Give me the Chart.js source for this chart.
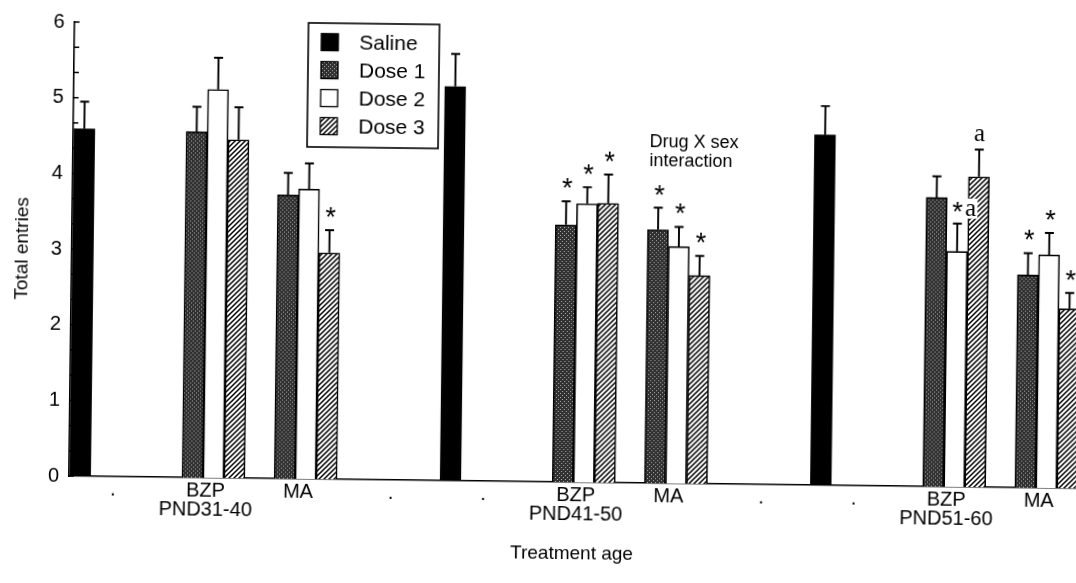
<!DOCTYPE html>
<html><head><meta charset="utf-8">
<script src="https://cdn.jsdelivr.net/npm/chart.js@4.4.1/dist/chart.umd.min.js"></script>
<style>
html,body{margin:0;padding:0;background:#fff;overflow:hidden;width:1076px;height:583px}
#c{display:block;transform:rotate(0.7deg);transform-origin:69px 476px}
</style></head><body>
<canvas id="c" width="1076" height="583"></canvas>
<script>
// ---------------- data ----------------
const ages = ['PND31-40', 'PND41-50', 'PND51-60'];
const drugs = ['BZP', 'MA'];
const seriesNames = ['Saline', 'Dose 1', 'Dose 2', 'Dose 3'];
const salineMean = [4.59, 5.21, 4.63];
const salineSem  = [0.36, 0.43, 0.38];
// order: BZP 31-40, MA 31-40, BZP 41-50, MA 41-50, BZP 51-60, MA 51-60
const dose1Mean = [4.57, 3.75, 3.40, 3.35, 3.82, 2.81];
const dose1Sem  = [0.33, 0.29, 0.31, 0.29, 0.28, 0.29];
const dose2Mean = [5.13, 3.83, 3.68, 3.13, 3.11, 3.08];
const dose2Sem  = [0.42, 0.34, 0.22, 0.26, 0.37, 0.29];
const dose3Mean = [4.47, 2.99, 3.69, 2.75, 4.10, 2.37];
const dose3Sem  = [0.43, 0.30, 0.38, 0.26, 0.36, 0.21];
const dose1Marks = ['', '', '*', '*', '', '*'];
const dose2Marks = ['', '', '*', '*', '*a', '*'];
const dose3Marks = ['', '*', '*', '*', 'a', '*'];
const yTickValues = [0, 1, 2, 3, 4, 5, 6];
const noteLines = ['Drug X sex', 'interaction'];
const xTitle = 'Treatment age';
const yTitle = 'Total entries';

// ---------------- layout (not data) ----------------
const SLOTS_PER_AGE = 4;                 // ".", drug1, drug2, "."
const barOffset = [-0.355, 1.085, 2.08]; // Saline, BZP, MA bar-group offsets in slot units
const X_MIN = -0.475, X_MAX = 10.4;
const FONT = '"Liberation Sans", Arial, Helvetica, sans-serif';
const SERIF = '"Liberation Serif", "Times New Roman", serif';

const xTickLabels = [];
ages.forEach((age) => { xTickLabels.push('.', [drugs[0], age], drugs[1], '.'); });
xTickLabels.length = xTickLabels.length - 1;

const slotX = [];
ages.forEach((age, a) => { barOffset.forEach(o => slotX.push(a * SLOTS_PER_AGE + o)); });

function salineSeries() {
  return slotX.map((x, i) => {
    const a = Math.floor(i / 3), k = i % 3;
    return k === 0 ? {x, y: salineMean[a], sem: salineSem[a], mark: ''} : {x, y: null};
  });
}
function doseSeries(mean, sem, marks) {
  return slotX.map((x, i) => {
    const a = Math.floor(i / 3), k = i % 3;
    if (k === 0) return {x, y: null};
    const j = a * 2 + (k - 1);
    return {x, y: mean[j], sem: sem[j], mark: marks[j]};
  });
}

const canvas = document.getElementById('c');
const ctx0 = canvas.getContext('2d');
function stipplePattern() {
  const c = document.createElement('canvas'); c.width = 4; c.height = 4;
  const g = c.getContext('2d');
  g.fillStyle = '#303030'; g.fillRect(0, 0, 4, 4);
  g.fillStyle = '#b0b0b0'; g.fillRect(1, 1, 1, 1); g.fillRect(3, 3, 1, 1);
  return ctx0.createPattern(c, 'repeat');
}
function hatchPattern() {
  const c = document.createElement('canvas'); c.width = 5; c.height = 5;
  const g = c.getContext('2d');
  g.fillStyle = '#fff'; g.fillRect(0, 0, 5, 5);
  g.strokeStyle = '#000'; g.lineWidth = 1.5;
  g.beginPath();
  g.moveTo(-1, 6); g.lineTo(6, -1);
  g.moveTo(-3.5, 3.5); g.lineTo(3.5, -3.5);
  g.moveTo(1.5, 8.5); g.lineTo(8.5, 1.5);
  g.stroke();
  return ctx0.createPattern(c, 'repeat');
}
const fills = ['#000', stipplePattern(), '#fff', hatchPattern()];

const datasets = [
  salineSeries(),
  doseSeries(dose1Mean, dose1Sem, dose1Marks),
  doseSeries(dose2Mean, dose2Sem, dose2Marks),
  doseSeries(dose3Mean, dose3Sem, dose3Marks)
].map((data, i) => ({
  label: seriesNames[i],
  data,
  backgroundColor: fills[i],
  borderColor: '#000',
  borderWidth: 1.6,
  barThickness: 21,
  skipNull: true
}));

const errorPlugin = {
  id: 'errorBars',
  afterDatasetsDraw(chart) {
    const ctx = chart.ctx, ys = chart.scales.y;
    ctx.save();
    ctx.strokeStyle = '#000'; ctx.lineWidth = 1.9;
    chart.data.datasets.forEach((ds, di) => {
      const meta = chart.getDatasetMeta(di);
      meta.data.forEach((bar, i) => {
        const p = ds.data[i];
        if (p.y == null) return;
        const top = ys.getPixelForValue(p.y + p.sem);
        ctx.beginPath();
        ctx.moveTo(bar.x, bar.y); ctx.lineTo(bar.x, top);
        ctx.moveTo(bar.x - 4.5, top); ctx.lineTo(bar.x + 4.5, top);
        ctx.stroke();
      });
    });
    chart.data.datasets.forEach((ds, di) => {
      const meta = chart.getDatasetMeta(di);
      meta.data.forEach((bar, i) => {
        const p = ds.data[i];
        if (p.y == null || !p.mark) return;
        const top = ys.getPixelForValue(p.y + p.sem);
        ctx.fillStyle = '#000';
        ctx.textAlign = 'center'; ctx.textBaseline = 'alphabetic';
        if (p.mark === '*') {
          ctx.font = '27px ' + FONT;
          ctx.fillText('*', bar.x + 1, top - 4);
        } else if (p.mark === 'a') {
          ctx.font = '25px ' + SERIF;
          ctx.fillText('a', bar.x, top - 9);
        } else if (p.mark === '*a') {
          ctx.fillStyle = '#fff';
          ctx.fillRect(bar.x + 6, top - 25, 14, 20);
          ctx.fillStyle = '#000';
          ctx.font = '27px ' + FONT;
          ctx.fillText('*', bar.x, top - 3);
          ctx.font = '25px ' + SERIF;
          ctx.fillText('a', bar.x + 13, top - 8);
        }
      });
    });
    ctx.restore();
  }
};

const axisDecor = {
  id: 'axisDecor',
  afterDraw(chart) {
    const ctx = chart.ctx, ys = chart.scales.y, xs = chart.scales.x;
    const ax = chart.chartArea.left;
    ctx.save();
    ctx.strokeStyle = '#000'; ctx.lineWidth = 1.5;
    for (let k = 0; k <= 18; k++) {
      const py = ys.getPixelForValue(k / 3);
      ctx.beginPath(); ctx.moveTo(ax, py); ctx.lineTo(ax + 5, py); ctx.stroke();
    }
    // legend
    const lx = 303, ly = 20, lw = 131, lh = 124;
    ctx.fillStyle = '#fff'; ctx.fillRect(lx, ly, lw, lh);
    ctx.lineWidth = 1.6; ctx.strokeRect(lx, ly, lw, lh);
    ctx.font = '21px ' + FONT; ctx.textAlign = 'left'; ctx.textBaseline = 'middle';
    chart.data.datasets.forEach((ds, i) => {
      const cy = 39 + i * 28;
      ctx.fillStyle = ds.backgroundColor;
      ctx.fillRect(316, cy - 8.5, 17, 17);
      ctx.lineWidth = 1.3; ctx.strokeRect(316, cy - 8.5, 17, 17);
      ctx.fillStyle = '#000';
      ctx.fillText(ds.label, 354, cy + 1);
    });
    // interaction note, anchored to the MA PND41-50 tick
    ctx.font = '18px ' + FONT; ctx.textAlign = 'left'; ctx.textBaseline = 'middle';
    const nx = xs.getPixelForValue(6) - 23, ny = ys.getPixelForValue(4.5);
    noteLines.forEach((t, i) => ctx.fillText(t, nx, ny + i * 19));
    ctx.restore();
  }
};

new Chart(canvas, {
  type: 'bar',
  data: { datasets },
  options: {
    responsive: false,
    animation: false,
    layout: { padding: { top: 22, right: 0, bottom: 0, left: 0 } },
    plugins: { legend: { display: false }, tooltip: { enabled: false } },
    scales: {
      x: {
        type: 'linear', min: X_MIN, max: X_MAX, offset: false,
        grid: { display: false, drawTicks: false },
        border: { display: true, color: '#000', width: 1.6 },
        afterBuildTicks: s => { s.ticks = xTickLabels.map((_, i) => ({ value: i })); },
        afterFit: s => { s.height = 107; },
        ticks: {
          autoSkip: false, maxRotation: 0, minRotation: 0, padding: 4, color: '#000',
          font: { family: FONT, size: 20, lineHeight: 0.95 },
          callback: v => xTickLabels[v]
        },
        title: { display: true, text: xTitle, color: '#000',
                 font: { family: FONT, size: 19 }, padding: { top: 0, bottom: 24 } }
      },
      y: {
        min: 0, max: 6,
        grid: { display: false, drawTicks: false },
        border: { display: true, color: '#000', width: 1.6 },
        afterBuildTicks: s => { s.ticks = yTickValues.map(v => ({ value: v })); },
        afterFit: s => { s.width = 69; },
        ticks: { padding: 10, color: '#000', font: { family: FONT, size: 20 } },
        title: { display: true, text: yTitle, color: '#000',
                 font: { family: FONT, size: 19 }, padding: { top: 8.6, bottom: 0 } }
      }
    }
  },
  plugins: [errorPlugin, axisDecor]
});
</script>
</body></html>
